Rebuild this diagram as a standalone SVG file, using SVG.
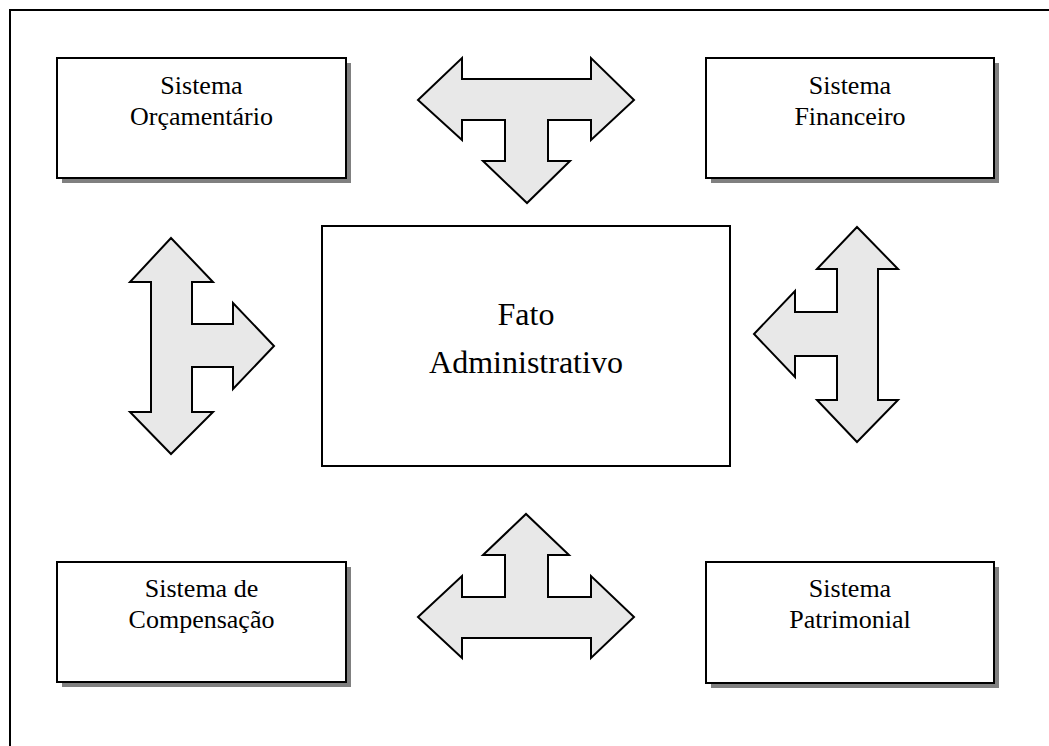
<svg xmlns="http://www.w3.org/2000/svg" width="1049" height="746" viewBox="0 0 1049 746">
<style>
.box{fill:#fff;stroke:#000;stroke-width:2}
.shadow{fill:#808080}
.arrow{fill:#e8e8e8;stroke:#000;stroke-width:2;stroke-linejoin:miter}
.t{font-family:"Liberation Serif","Times New Roman",serif;font-size:26px;fill:#000;text-anchor:middle}
.tc{font-family:"Liberation Serif","Times New Roman",serif;font-size:32px;fill:#000;text-anchor:middle}
.frame{fill:none;stroke:#000;stroke-width:2}
</style>
<rect width="1049" height="746" fill="#fff"/>
<path class="frame" d="M10,746 V10 H1049"/>

<g id="orcamentario">
<rect class="shadow" x="62" y="63" width="289" height="120"/>
<rect class="box" x="57" y="58" width="289" height="120"/>
<text class="t" x="201.5" y="94">Sistema</text>
<text class="t" x="201.5" y="125">Orçamentário</text>
</g>

<g id="financeiro">
<rect class="shadow" x="711" y="63" width="288" height="120"/>
<rect class="box" x="706" y="58" width="288" height="120"/>
<text class="t" x="850" y="94">Sistema</text>
<text class="t" x="850" y="125">Financeiro</text>
</g>

<g id="compensacao">
<rect class="shadow" x="62" y="567" width="289" height="120"/>
<rect class="box" x="57" y="562" width="289" height="120"/>
<text class="t" x="201.5" y="597">Sistema de</text>
<text class="t" x="201.5" y="628">Compensação</text>
</g>

<g id="patrimonial">
<rect class="shadow" x="711" y="567" width="288" height="121"/>
<rect class="box" x="706" y="562" width="288" height="121"/>
<text class="t" x="850" y="597">Sistema</text>
<text class="t" x="850" y="628">Patrimonial</text>
</g>

<g id="fato">
<rect class="box" x="322" y="226" width="408" height="240"/>
<text class="tc" x="526" y="325">Fato</text>
<text class="tc" x="526" y="373">Administrativo</text>
</g>

<g id="connectors">
<path class="arrow" d="M418,100 L462,58 V79 H591 V58 L634,100 L591,140 V120 H548 V161 H570 L527,203 L483,161 H505 V120 H462 V140 Z"/>
<path class="arrow" d="M418,617 L462,576 V597 H505 V555 H483 L526,514 L569,555 H548 V597 H591 V576 L634,617 L591,658 V638 H462 V658 Z"/>
<path class="arrow" d="M171,238 L213,282 H192 V324 H233 V303 L274,346 L233,389 V367 H192 V412 H213 L171,454 L130,412 H151 V282 H130 Z"/>
<path class="arrow" d="M857,227 L898,269 H878 V400 H898 L857,442 L817,400 H837 V356 H795 V377 L754,334 L795,291 V312 H837 V269 H817 Z"/>
</g>
</svg>
